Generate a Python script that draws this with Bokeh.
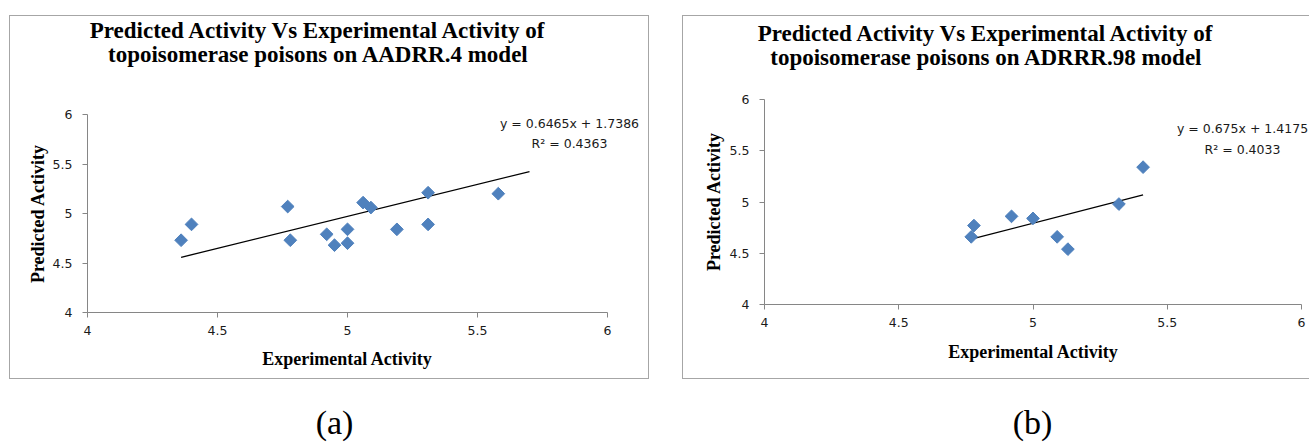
import numpy as np
from bokeh.plotting import figure
from bokeh.models import Range1d, FixedTicker, Label
from bokeh.layouts import row, column
from bokeh.embed import file_html
from bokeh.resources import INLINE

# ---------------- data ----------------
tick_values = [4, 4.5, 5, 5.5, 6]
tick_labels = ["4", "4.5", "5", "5.5", "6"]

# (a) AADRR.4 model
exp_a = [4.36, 4.40, 4.77, 4.78, 4.92, 4.95, 5.00, 5.00, 5.06, 5.09, 5.19, 5.31, 5.31, 5.58]
pred_a = [4.73, 4.89, 5.07, 4.73, 4.79, 4.68, 4.84, 4.70, 5.11, 5.06, 4.84, 5.21, 4.89, 5.20]
slope_a, intercept_a, r2_a = 0.6465, 1.7386, 0.4363
trend_span_a = [4.36, 5.70]
title_a = ["Predicted Activity Vs Experimental Activity of",
           "topoisomerase poisons on AADRR.4 model"]

# (b) ADRRR.98 model
exp_b = [4.77, 4.78, 4.92, 5.00, 5.09, 5.13, 5.32, 5.41]
pred_b = [4.66, 4.77, 4.86, 4.84, 4.66, 4.54, 4.98, 5.34]
slope_b, intercept_b, r2_b = 0.675, 1.4175, 0.4033
trend_span_b = [4.77, 5.41]
title_b = ["Predicted Activity Vs Experimental Activity of",
           "topoisomerase poisons on ADRRR.98 model"]

x_label = "Experimental Activity"
y_label = "Predicted Activity"
panel_tags = ["(a)", "(b)"]

MARK = "#4F81BD"
AXIS = "#868686"
FRAME = "#a6a6a6"
TICK_FONT = "DejaVu Sans"
SERIF = "Liberation Serif"
LO, HI = 4, 6


def make_panel(xs, ys, slope, intercept, r2, span, title,
               cw, ch, ax_left, ax_w, ax_bottom, ax_h, margin, border_css,
               title_pos, eq_pos, xlab_pos, ylab_pos):
    # the frame covers the whole canvas; axes are pinned at value 4
    xpu = (HI - LO) / ax_w
    ypu = (HI - LO) / ax_h
    x_rng = Range1d(LO - ax_left * xpu, HI + (cw - ax_left - ax_w) * xpu)
    y_rng = Range1d(LO - ax_bottom * ypu, HI + (ch - ax_bottom - ax_h) * ypu)
    p = figure(width=cw, height=ch, output_backend="svg",
               toolbar_location=None, x_range=x_rng, y_range=y_rng,
               min_border=0, margin=margin, styles=border_css)
    p.frame_align = False
    p.background_fill_color = "white"
    p.border_fill_color = "white"
    p.outline_line_color = None
    p.xgrid.visible = False
    p.ygrid.visible = False

    for ax in (p.xaxis[0], p.yaxis[0]):
        ax.fixed_location = LO
        ax.bounds = (LO, HI)
        ax.ticker = FixedTicker(ticks=tick_values)
        ax.major_label_overrides = {v: s for v, s in zip(tick_values, tick_labels)}
        ax.axis_line_color = AXIS
        ax.major_tick_line_color = AXIS
        ax.minor_tick_line_color = None
        ax.major_tick_in = 0
        ax.major_tick_out = 5
        ax.major_label_text_font = TICK_FONT
        ax.major_label_text_font_size = "12.5px"
        ax.major_label_text_color = "#1a1a1a"
    p.xaxis[0].major_label_standoff = 8
    p.yaxis[0].major_label_standoff = 10
    p.yaxis[0].major_label_orientation = "horizontal"

    # trend line
    tx = np.array(span)
    p.line(tx, slope * tx + intercept, line_color="black", line_width=1.3)
    # points
    p.scatter(xs, ys, marker="square", angle=np.pi / 4, size=9,
              fill_color=MARK, line_color=MARK)

    serif_bold = dict(x_units="screen", y_units="screen", text_align="center",
                      text_baseline="middle", text_font=SERIF,
                      text_font_style="bold", text_color="black")
    # title
    for txt, (lx, ly) in zip(title, title_pos):
        p.add_layout(Label(x=lx, y=ly, text=txt, text_font_size="23px", **serif_bold))
    # axis titles
    p.add_layout(Label(x=xlab_pos[0], y=xlab_pos[1], text=x_label,
                       text_font_size="18px", **serif_bold))
    p.add_layout(Label(x=ylab_pos[0], y=ylab_pos[1], text=y_label, angle=np.pi / 2,
                       text_font_size="18px", **serif_bold))
    # equation
    (ex, ey0), ey1 = eq_pos
    for txt, ey in ((f"y = {slope}x + {intercept}", ey0), (f"R² = {r2}", ey1)):
        p.add_layout(Label(x=ex, y=ey, x_units="screen", y_units="screen",
                           text=txt, text_align="center",
                           text_baseline="middle", text_font=TICK_FONT,
                           text_font_size="12.5px", text_color="#1a1a1a"))
    return p


def make_tag(tag, w, h, cx, cy):
    t = figure(width=w, height=h, output_backend="svg", toolbar_location=None,
               x_range=Range1d(0, 1), y_range=Range1d(0, 1),
               x_axis_location=None, y_axis_location=None, min_border=0)
    t.frame_align = False
    t.outline_line_color = None
    t.xgrid.visible = False
    t.ygrid.visible = False
    t.add_layout(Label(x=cx, y=cy, x_units="screen", y_units="screen",
                       text=tag, text_align="center", text_baseline="middle",
                       text_font=SERIF, text_font_size="34px", text_color="black"))
    return t


border_full = {"border": f"1px solid {FRAME}"}
border_open = {"border-left": f"1px solid {FRAME}", "border-top": f"1px solid {FRAME}",
               "border-bottom": f"1px solid {FRAME}"}

pa = make_panel(exp_a, pred_a, slope_a, intercept_a, r2_a, trend_span_a, title_a,
                cw=640, ch=364, ax_left=77, ax_w=520, ax_bottom=68, ax_h=198,
                margin=(15, 0, 0, 9), border_css=border_full,
                title_pos=((308, 350), (308, 326)),
                eq_pos=((559, 257), 237),
                xlab_pos=(337, 22), ylab_pos=(27, 167))

pb = make_panel(exp_b, pred_b, slope_b, intercept_b, r2_b, trend_span_b, title_b,
                cw=627, ch=364, ax_left=81, ax_w=537, ax_bottom=76, ax_h=205,
                margin=(15, 0, 0, 12), border_css=border_open,
                title_pos=((303, 347), (303, 323)),
                eq_pos=((559, 252), 231),
                xlab_pos=(350, 29), ylab_pos=(30, 179))

ta = make_tag(panel_tags[0], 670, 66, 334, 23)
tb = make_tag(panel_tags[1], 640, 66, 362, 23)

layout = row(column(pa, ta), column(pb, tb))
open("out.html", "w").write(file_html(layout, INLINE))
